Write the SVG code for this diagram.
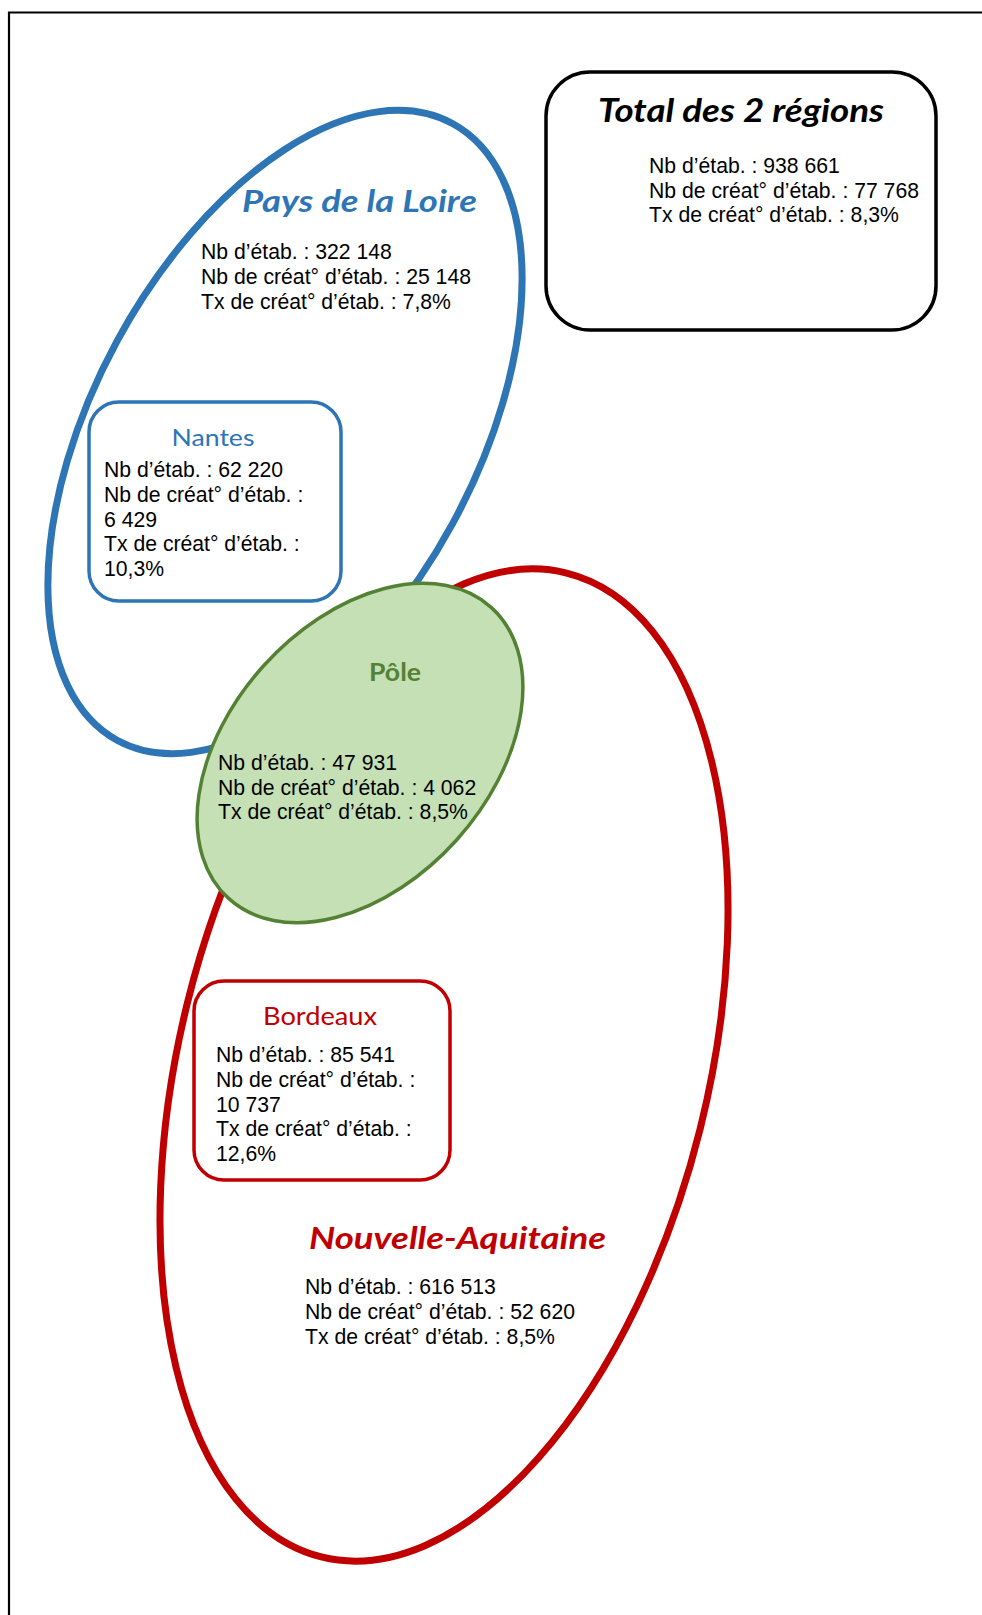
<svg xmlns="http://www.w3.org/2000/svg" width="982" height="1615" viewBox="0 0 982 1615">
<style>
.body{font-family:"Liberation Sans",Arial,sans-serif;font-size:21.2px;fill:#000}
.ttl{font-family:Lato,"Open Sans",sans-serif;font-weight:bold;font-style:italic}
.sub{font-family:Lato,"Open Sans",sans-serif}
.blue{fill:#2E75B6}
.red{fill:#C00000}
.green{fill:#548235}
</style>
<rect width="982" height="1615" fill="#fff"/>
<g id="page-border" fill="none" stroke="#000" stroke-width="2.2">
<path d="M9,1615 V12.5 H982"/>
</g>
<g id="pays-de-la-loire">
<ellipse cx="285" cy="432" rx="351" ry="191" transform="rotate(-61.5 285 432)" fill="none" stroke="#2E75B6" stroke-width="7"/>
</g>
<g id="nouvelle-aquitaine">
<ellipse cx="444" cy="1065" rx="507" ry="264" transform="rotate(-76 444 1065)" fill="none" stroke="#C00000" stroke-width="7"/>
</g>
<g id="nantes">
<rect x="89" y="402" width="252" height="199" rx="30" fill="#fff" stroke="#2E75B6" stroke-width="3.5"/>
<text class="sub blue" x="213" y="446" font-size="24" text-anchor="middle" textLength="83" lengthAdjust="spacingAndGlyphs">Nantes</text>
<text class="body"><tspan x="104" y="477">Nb d’étab. : 62 220</tspan><tspan x="104" y="502">Nb de créat° d’étab. :</tspan><tspan x="104" y="526.5">6 429</tspan><tspan x="104" y="551">Tx de créat° d’étab. :</tspan><tspan x="104" y="576">10,3%</tspan></text>
</g>
<g id="bordeaux">
<rect x="194" y="981" width="256" height="199" rx="30" fill="#fff" stroke="#C00000" stroke-width="3.5"/>
<text class="sub red" x="320" y="1025" font-size="25" text-anchor="middle" textLength="114" lengthAdjust="spacingAndGlyphs">Bordeaux</text>
<text class="body"><tspan x="216" y="1062">Nb d’étab. : 85 541</tspan><tspan x="216" y="1087">Nb de créat° d’étab. :</tspan><tspan x="216" y="1111.5">10 737</tspan><tspan x="216" y="1136">Tx de créat° d’étab. :</tspan><tspan x="216" y="1161">12,6%</tspan></text>
</g>
<g id="pole">
<ellipse cx="360" cy="753" rx="196" ry="130" transform="rotate(-48 360 753)" fill="#C5E0B4" stroke="#548235" stroke-width="3.5"/>
<text class="sub green" x="395" y="681" font-size="24" font-weight="bold" text-anchor="middle" textLength="52" lengthAdjust="spacingAndGlyphs">Pôle</text>
<text class="body"><tspan x="218" y="770">Nb d’étab. : 47 931</tspan><tspan x="218" y="794.5">Nb de créat° d’étab. : 4 062</tspan><tspan x="218" y="819">Tx de créat° d’étab. : 8,5%</tspan></text>
</g>
<g id="pdl-label">
<text class="ttl blue" x="242" y="212" font-size="31" textLength="235" lengthAdjust="spacingAndGlyphs">Pays de la Loire</text>
<text class="body"><tspan x="201" y="259">Nb d’étab. : 322 148</tspan><tspan x="201" y="284">Nb de créat° d’étab. : 25 148</tspan><tspan x="201" y="308.5">Tx de créat° d’étab. : 7,8%</tspan></text>
</g>
<g id="na-label">
<text class="ttl red" x="309" y="1249" font-size="31" textLength="297" lengthAdjust="spacingAndGlyphs">Nouvelle-Aquitaine</text>
<text class="body"><tspan x="305" y="1294">Nb d’étab. : 616 513</tspan><tspan x="305" y="1319">Nb de créat° d’étab. : 52 620</tspan><tspan x="305" y="1343.5">Tx de créat° d’étab. : 8,5%</tspan></text>
</g>
<g id="total">
<rect x="546" y="72" width="390" height="258" rx="44" fill="#fff" stroke="#000" stroke-width="3.5"/>
<text class="ttl" x="598" y="122" font-size="33" fill="#000" textLength="286" lengthAdjust="spacingAndGlyphs">Total des 2 régions</text>
<text class="body"><tspan x="649" y="173">Nb d’étab. : 938 661</tspan><tspan x="649" y="197.5">Nb de créat° d’étab. : 77 768</tspan><tspan x="649" y="222">Tx de créat° d’étab. : 8,3%</tspan></text>
</g>
</svg>
